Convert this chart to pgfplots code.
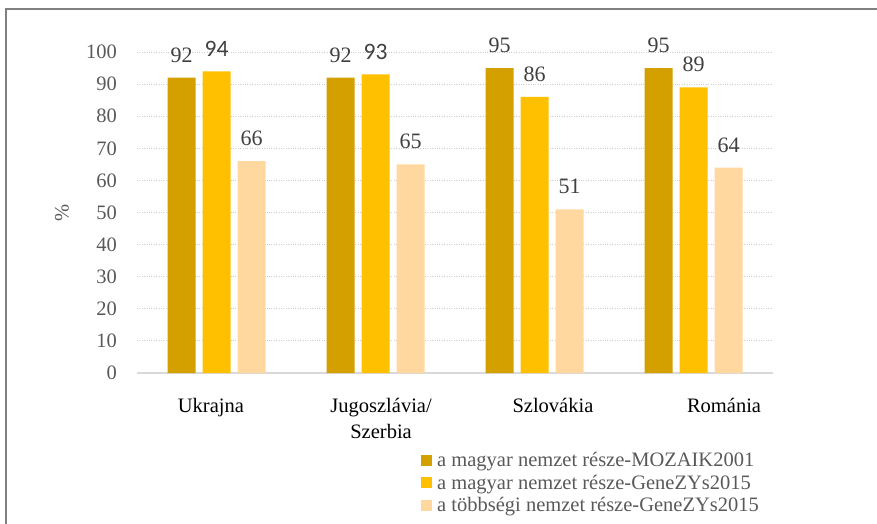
\documentclass[border=0pt]{standalone}
\usepackage{pgfplots}
\pgfplotsset{compat=1.18}
\usepackage{fontspec}
\setmainfont{Liberation Serif}
\newfontfamily\calib{Carlito}

\definecolor{darkgold}{HTML}{D4A000}
\definecolor{gold}{HTML}{FFC000}
\definecolor{peach}{HTML}{FFD8A0}
\definecolor{txtgray}{HTML}{595959}
\definecolor{lblgray}{HTML}{404040}

\begin{document}
\begin{tikzpicture}
\useasboundingbox (0,0) rectangle (877pt,523pt);
% outer frame (only left and top edges are in view)
\draw[gray, line width=2pt] (6pt,-20pt) |- (900pt,514pt);

\begin{axis}[
    at={(137pt,150pt)}, anchor=south west,
    scale only axis,
    width=636pt, height=321pt,
    ybar=7pt, bar width=28pt,
    xmin=-0.5, xmax=3.5,
    ymin=0, ymax=100,
    ytick={0,10,...,100},
    xtick={-0.035,1.035,2.116,3.192},
    xticklabels={Ukrajna, Jugoszlávia/\\Szerbia, Szlovákia, Románia},
    major tick length=0pt,
    axis x line*=bottom, axis y line*=left,
    y axis line style={draw=none},
    x axis line style={draw=black!15, line width=2pt},
    ymajorgrids=true,
    grid style={dotted, black!20, line width=1pt},
    /pgf/number format/assume math mode=true,
    yticklabel style={font=\fontsize{20.5}{24}\selectfont, text=txtgray, inner sep=0pt, xshift=-20pt},
    xticklabel style={font=\fontsize{20.5}{26}\selectfont, text=black, align=center, inner sep=0pt, anchor=north, yshift=-25pt},
    ylabel={\%},
    every axis y label/.style={at={(axis description cs:-0.118,0.5)}, rotate=90, anchor=center,
        font=\fontsize{20.5}{24}\selectfont, text=txtgray},
    nodes near coords,
    every node near coord/.append style={font=\fontsize{22}{24}\selectfont, text=lblgray, inner sep=0pt, anchor=south, yshift=15pt},
    legend style={
        at={(0.4465,-0.243)}, anchor=north west,
        draw=none, fill=none,
        font=\fontsize{20.5}{24}\selectfont, text=txtgray,
        row sep=5pt, inner sep=0pt,
        nodes={inner sep=1pt},
        /tikz/every odd column/.append style={column sep=4pt}
    },
    legend cell align=left,
    legend image code/.code={\fill[#1] (0pt,-5.5pt) rectangle (11pt,5.5pt);},
]

\addplot[fill=darkgold, draw=none] coordinates {(0,92) (1,92) (2,95) (3,95)};
\addplot[fill=gold, draw=none,
    point meta=explicit symbolic,
    nodes near coords={\pgfplotspointmeta}]
    coordinates {(0,94) [{\calib\fontsize{23.5}{24}\selectfont 94}] (1,93) [{\calib\fontsize{23.5}{24}\selectfont 93}] (2,86) [86] (3,89) [89]};
\addplot[fill=peach, draw=none] coordinates {(0,66) (1,65) (2,51) (3,64)};

\legend{a magyar nemzet része-MOZAIK2001, a magyar nemzet része-GeneZYs2015, a többségi nemzet része-GeneZYs2015}
\end{axis}
\end{tikzpicture}
\end{document}
